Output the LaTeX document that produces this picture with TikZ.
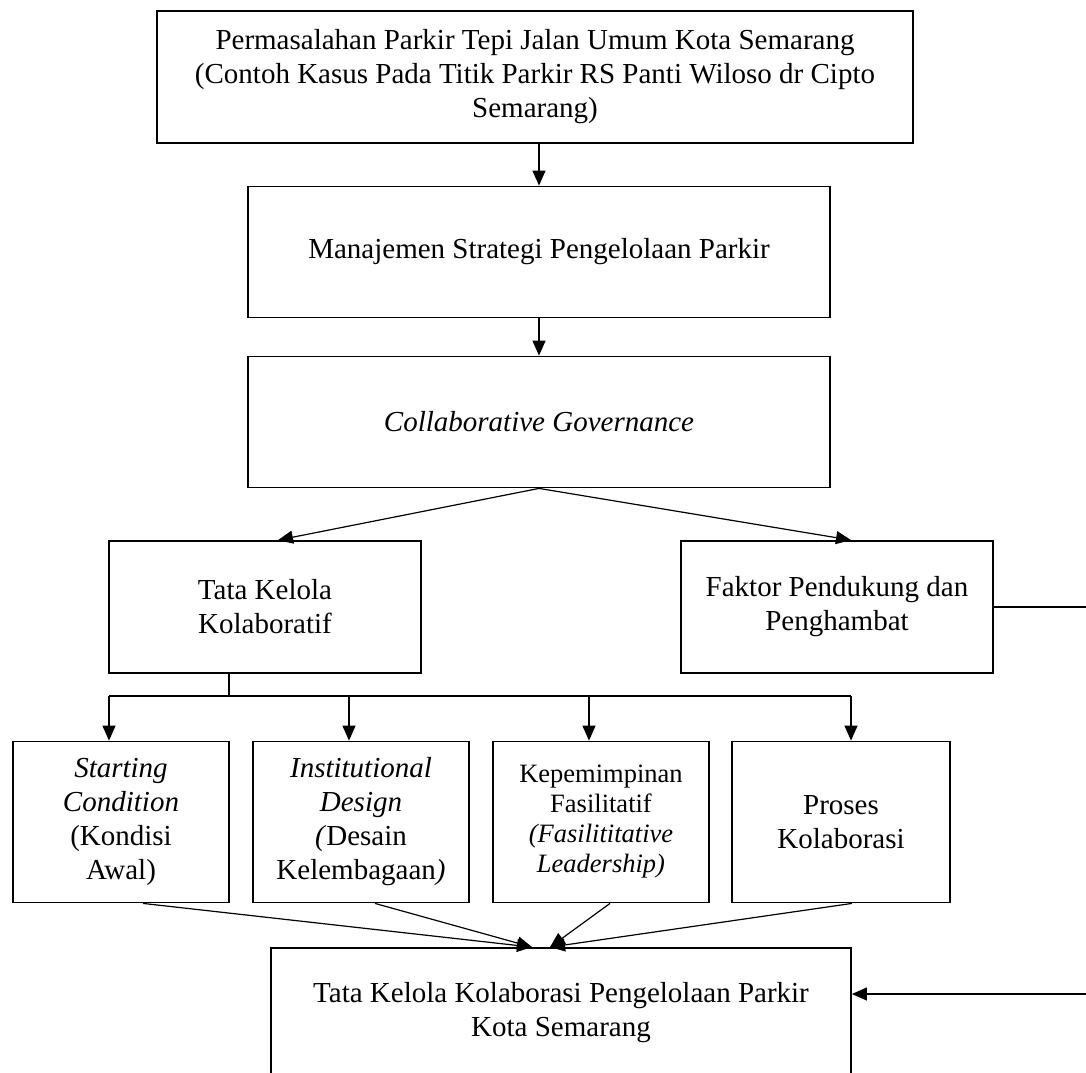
\documentclass[tikz,border=0pt]{standalone}
\usepackage{fontspec}
\setmainfont{Liberation Serif}
\usetikzlibrary{arrows.meta,calc}
\begin{document}
\begin{tikzpicture}[x=1pt,y=-1pt,
  box/.style={draw, line width=1.8pt, inner sep=0pt, align=center, font=\fontsize{29}{34}\selectfont},
  smallbox/.style={box, minimum width=216pt, minimum height=161pt},
  conn/.style={line width=1.2pt},
  arr/.style={conn, -{Triangle[length=15pt,width=13pt]}}]
\useasboundingbox (0,0) rectangle (1086,1072);
\clip (0,0) rectangle (1086,1072);
% boxes
\node[box, minimum width=756pt, minimum height=132pt] (top) at (535,77)
  {Permasalahan Parkir Tepi Jalan Umum Kota Semarang\\(Contoh Kasus Pada Titik Parkir RS Panti Wiloso dr Cipto\\Semarang)};
\node[box, minimum width=582pt, minimum height=131pt] (ms) at (539,252)
  {Manajemen Strategi Pengelolaan Parkir};
\node[box, minimum width=582pt, minimum height=131pt] (cg) at (539,422)
  {\itshape Collaborative Governance};
\node[box, minimum width=312pt, minimum height=132pt] (tk) at (265,607)
  {Tata Kelola\\Kolaboratif};
\node[box, minimum width=312pt, minimum height=132pt] (fk) at (837,607)
  {Faktor Pendukung dan\\Penghambat};
\node[smallbox] (s1) at (121,822)
  {\textit{Starting}\\\textit{Condition}\\(Kondisi\\Awal)};
\node[smallbox] (s2) at (361,822)
  {\textit{Institutional}\\\textit{Design}\\\textit{(}Desain\\Kelembagaan\textit{)}};
\node[smallbox, font=\fontsize{26.5}{30}\selectfont] (s3) at (601,822)
  {Kepemimpinan\\Fasilitatif\\\textit{(Fasilititative}\\\textit{Leadership)}};
\node[smallbox, minimum width=218pt] (s4) at (841,822)
  {Proses\\Kolaborasi};
\node[box, minimum width=580pt, minimum height=130pt] (bot) at (561,1013)
  {Tata Kelola Kolaborasi Pengelolaan Parkir\\Kota Semarang};
% vertical arrows
\draw[arr] (ms.north |- top.south) -- (ms.north);
\draw[arr] (cg.north |- ms.south) -- (cg.north);
% split arrows
\draw[arr] (cg.south) -- ($(tk.north)+(13,0)$);
\draw[arr] (cg.south) -- ($(fk.north)+(14,0)$);
% bus
\coordinate (bs) at (229,696);
\coordinate (b1) at (109,696);
\coordinate (b2) at (349,696);
\coordinate (b3) at (589,696);
\coordinate (b4) at (851,696);
\draw[conn] (tk.south -| bs) -- (bs);
\draw[conn] (b1) -- (b4);
\draw[arr] (b1) -- (b1 |- s1.north);
\draw[arr] (b2) -- (b2 |- s2.north);
\draw[arr] (b3) -- (b3 |- s3.north);
\draw[arr] (b4) -- (b4 |- s4.north);
% convergence
\draw[arr] ($(s1.south)+(22,0)$) -- ($(bot.north)+(-29,0)$);
\draw[arr] ($(s2.south)+(14,0)$) -- ($(bot.north)+(-29,0)$);
\draw[arr] ($(s3.south)+(9,0)$) -- ($(bot.north)+(-11,0)$);
\draw[arr] ($(s4.south)+(11,0)$) -- ($(bot.north)+(-11,0)$);
% right feedback
\coordinate (rc) at (1100,994);
\draw[arr] (fk.east) -- (fk.east -| rc) -- (rc) -- (rc -| bot.east);
\end{tikzpicture}
\end{document}
